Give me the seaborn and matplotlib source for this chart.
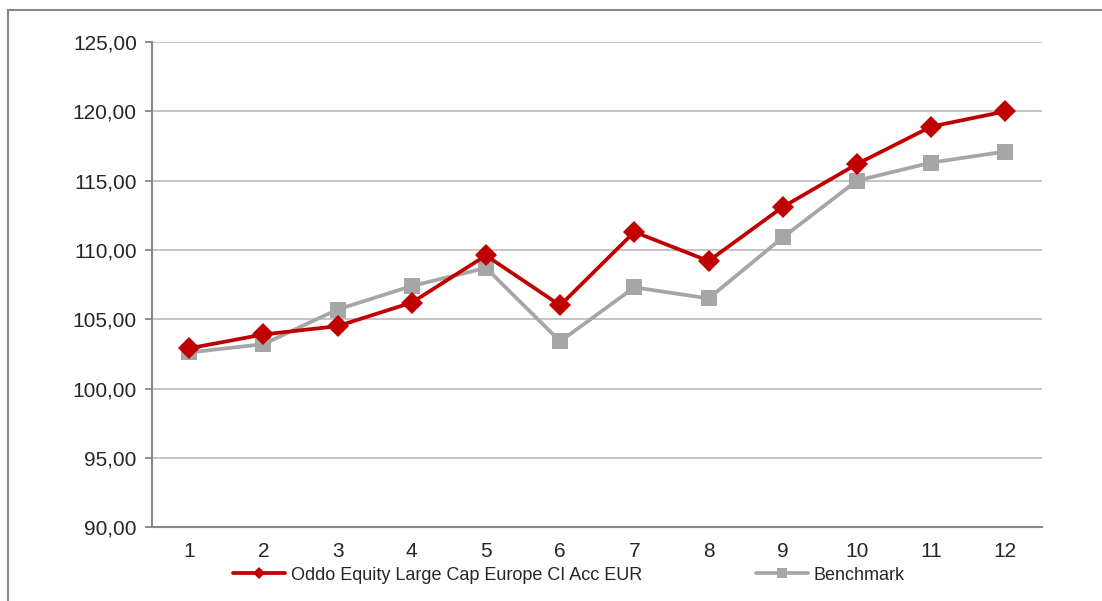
import pandas as pd
import numpy as np
import seaborn as sns
import matplotlib.pyplot as plt
from matplotlib.patches import Rectangle
from matplotlib.ticker import FuncFormatter, FixedLocator

months = [1, 2, 3, 4, 5, 6, 7, 8, 9, 10, 11, 12]
fund = [102.9, 103.9, 104.5, 106.2, 109.6, 106.0, 111.3, 109.2, 113.1, 116.2, 118.9, 120.0]
bench = [102.6, 103.2, 105.7, 107.4, 108.7, 103.4, 107.3, 106.5, 110.9, 115.0, 116.3, 117.1]
fund_name = "Oddo Equity Large Cap Europe CI Acc EUR"
bench_name = "Benchmark"

sns.set_style("white")
plt.rcParams['font.family'] = ['Liberation Sans', 'DejaVu Sans']

fig = plt.figure(figsize=(11.02, 6.01), dpi=100)
ax = fig.add_axes([0.138, 0.123, 0.808, 0.807])

# frame around the whole chart
fig.patches.append(Rectangle((8 / 1102, -0.05), 1.2, (601 - 10) / 601 + 0.05,
                             transform=fig.transFigure, fill=False,
                             edgecolor="#888888", linewidth=1.5))

df = pd.DataFrame({"month": months, "fund": fund, "bench": bench})
sns.lineplot(data=df, x="month", y="fund", ax=ax, color="#c00000", linewidth=2.7,
             marker="D", markersize=11, markeredgewidth=0, label=fund_name, zorder=4)
sns.lineplot(data=df, x="month", y="bench", ax=ax, color="#a6a6a6", linewidth=2.7,
             marker="s", markersize=12, markeredgewidth=0, label=bench_name, zorder=3)

ax.set_xlim(0.5, 12.5)
ax.set_ylim(90, 125)
ax.set_yticks(np.arange(90, 126, 5))
ax.yaxis.set_major_formatter(FuncFormatter(lambda v, p: f"{v:.2f}".replace(".", ",")))
ax.yaxis.grid(True, color="#bfbfbf", linewidth=1.3)
ax.set_axisbelow(True)

ax.xaxis.set_major_locator(FixedLocator(np.arange(0.5, 13, 1)))
ax.xaxis.set_major_formatter(FuncFormatter(lambda v, p: ""))
ax.xaxis.set_minor_locator(FixedLocator(months))
ax.set_xticklabels([str(m) for m in months], minor=True)
ax.tick_params(axis="x", which="major", length=5, width=1.3, color="#888888", direction="out")
ax.tick_params(axis="x", which="minor", length=0, labelsize=15, pad=11)
ax.tick_params(axis="y", length=5, width=1.3, color="#888888", labelsize=15, pad=6, left=True)

ax.set_xlabel("")
ax.set_ylabel("")
for s in ["top", "right"]:
    ax.spines[s].set_visible(False)
for s in ["left", "bottom"]:
    ax.spines[s].set_color("#888888")
    ax.spines[s].set_linewidth(1.5)

ax.get_legend().remove()
h, l = ax.get_legend_handles_labels()
fig.legend(h, l, loc="center left", bbox_to_anchor=(0.2115, 0.043), ncol=2, frameon=False,
           fontsize=13, columnspacing=6.3, handlelength=2.9, handletextpad=0.3,
           markerscale=0.6, borderpad=0, borderaxespad=0)

fig.savefig("out.png", dpi=100)
